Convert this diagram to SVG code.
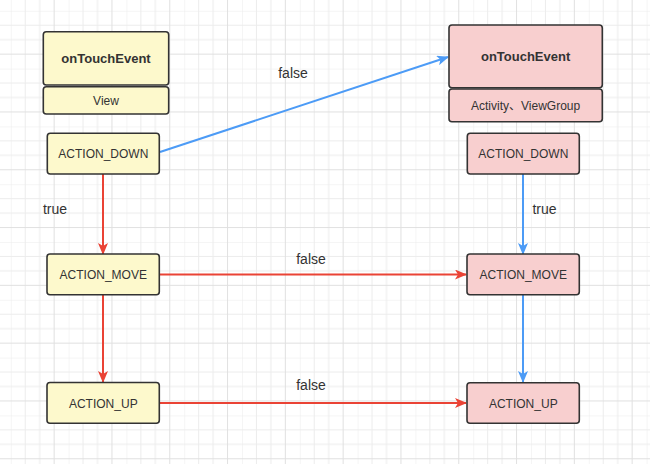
<svg xmlns="http://www.w3.org/2000/svg" width="650" height="464" viewBox="0 0 650 464">
<defs>
<pattern id="grid" x="10.8" y="10.8" width="57.8" height="57.8" patternUnits="userSpaceOnUse">
<path d="M0 0V57.8M14.45 0V57.8M28.9 0V57.8M0 0H57.8M0 14.45H57.8M0 28.9H57.8" stroke="#ececec" stroke-width="1" fill="none"/>
<path d="M43.35 0V57.8M0 43.35H57.8" stroke="#e0e0e0" stroke-width="1" fill="none"/>
</pattern>
<marker id="ar" viewBox="0 0 12 10" refX="11" refY="5" markerWidth="12" markerHeight="10" markerUnits="userSpaceOnUse" orient="auto">
<path d="M0 0L12 5L0 10L3 5Z" fill="#ea4335"/>
</marker>
<marker id="ab" viewBox="0 0 12 10" refX="11" refY="5" markerWidth="12" markerHeight="10" markerUnits="userSpaceOnUse" orient="auto">
<path d="M0 0L12 5L0 10L3 5Z" fill="#4c9bf6"/>
</marker>
</defs>
<style>
.y{fill:#fdf9cc;stroke:#333;stroke-width:1.6}
.p{fill:#f8cfcf;stroke:#333;stroke-width:1.6}
text{font-family:"Liberation Sans","Noto Sans CJK SC",Arial,sans-serif;fill:#333;text-anchor:middle}
.t{font-size:13px;font-weight:bold}
.s{font-size:12px}
.l{font-size:14px}
.r{stroke:#ea4335;stroke-width:2;fill:none;marker-end:url(#ar)}
.b{stroke:#4c9bf6;stroke-width:2;fill:none;marker-end:url(#ab)}
</style>
<rect width="650" height="464" fill="#fff"/>
<rect width="650" height="464" fill="url(#grid)"/>
<g id="connectors">
<path class="b" d="M160 152L448 57"/>
<path class="r" d="M103 174V254"/>
<path class="r" d="M103 295V382"/>
<path class="r" d="M159 274.5H466"/>
<path class="r" d="M159 403H466"/>
<path class="b" d="M523 174V254"/>
<path class="b" d="M523 295V382"/>
<text class="l" x="293" y="78">false</text>
<text class="l" x="55" y="214">true</text>
<text class="l" x="544.5" y="214">true</text>
<text class="l" x="311" y="264">false</text>
<text class="l" x="311" y="390">false</text>
</g>
<g id="view-title">
<rect class="y" x="43.3" y="31.7" width="125.4" height="53.3" rx="3"/>
<text class="t" x="106" y="63">onTouchEvent</text>
</g>
<g id="view-label">
<rect class="y" x="43.3" y="86.7" width="125.4" height="27.3" rx="3"/>
<text class="s" x="106" y="104.5">View</text>
</g>
<g id="view-down">
<rect class="y" x="47.3" y="133.3" width="112" height="40.7" rx="3"/>
<text class="s" x="103.3" y="158">ACTION_DOWN</text>
</g>
<g id="view-move">
<rect class="y" x="47" y="254" width="112.3" height="40.7" rx="3"/>
<text class="s" x="103.3" y="279">ACTION_MOVE</text>
</g>
<g id="view-up">
<rect class="y" x="47" y="382.5" width="112.3" height="40.8" rx="3"/>
<text class="s" x="103.3" y="407.5">ACTION_UP</text>
</g>
<g id="vg-title">
<rect class="p" x="449" y="25" width="153.3" height="62.7" rx="3"/>
<text class="t" x="525.6" y="61">onTouchEvent</text>
</g>
<g id="vg-label">
<rect class="p" x="449" y="89" width="153.3" height="32.7" rx="3"/>
<text class="s" x="525.6" y="109.5">Activity、ViewGroup</text>
</g>
<g id="vg-down">
<rect class="p" x="467.3" y="133.3" width="112" height="40.7" rx="3"/>
<text class="s" x="523.3" y="158">ACTION_DOWN</text>
</g>
<g id="vg-move">
<rect class="p" x="467" y="254" width="112.3" height="40.7" rx="3"/>
<text class="s" x="523.3" y="279">ACTION_MOVE</text>
</g>
<g id="vg-up">
<rect class="p" x="467" y="382.7" width="112.3" height="40.6" rx="3"/>
<text class="s" x="523.3" y="407.5">ACTION_UP</text>
</g>
</svg>
